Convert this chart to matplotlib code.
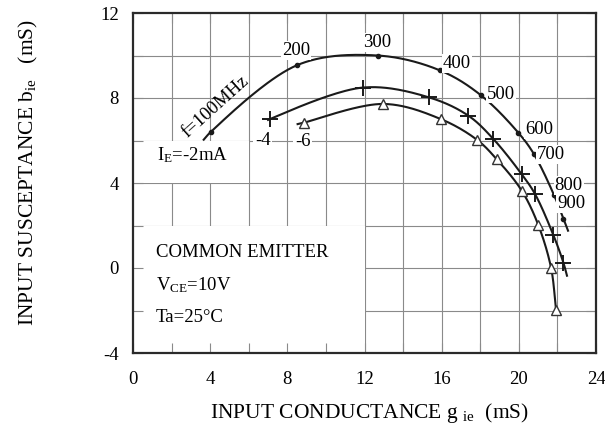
import numpy as np
import matplotlib
matplotlib.use("Agg")
import matplotlib.pyplot as plt
from matplotlib.patches import Rectangle
from matplotlib.ticker import MultipleLocator

plt.rcParams['font.family'] = ['Liberation Serif', 'DejaVu Serif']
plt.rcParams['mathtext.fontset'] = 'custom'
plt.rcParams['mathtext.rm'] = 'Liberation Serif'
plt.rcParams['mathtext.it'] = 'Liberation Serif:italic'

# ---- data ----
freq_labels = ['f=100MHz', '200', '300', '400', '500', '600', '700', '800', '900']

ie2_g = [4.04, 8.52, 12.68, 15.91, 18.02, 19.97, 20.79, 21.83, 22.31]
ie2_b = [6.41, 9.55, 10.0, 9.3, 8.14, 6.37, 5.35, 3.42, 2.32]
ie2_end_g = [3.63, 22.57]
ie2_end_b = [6.0, 1.71]

ie4_g = [7.1, 11.9, 15.34, 17.38, 18.68, 20.15, 20.84, 21.79, 22.31]
ie4_b = [7.01, 8.49, 8.03, 7.17, 6.07, 4.41, 3.48, 1.55, 0.25]
ie4_end_g = [6.95, 22.51]
ie4_end_b = [6.95, -0.41]

ie6_g = [8.86, 12.98, 15.95, 17.85, 18.85, 20.15, 21.01, 21.67, 21.93]
ie6_b = [6.84, 7.72, 7.01, 6.02, 5.12, 3.64, 2.02, 0.01, -1.98]
ie6_end_g = [8.48, 21.93]
ie6_end_b = [6.76, -1.98]

x_ticks = [0, 4, 8, 12, 16, 20, 24]
y_ticks = [-4, 0, 4, 8, 12]


def catmull_rom(x, y, n=40, alpha=0.5):
    P = np.column_stack([x, y]).astype(float)
    P = np.vstack([2 * P[0] - P[1], P, 2 * P[-1] - P[-2]])
    out = []
    for i in range(len(P) - 3):
        p0, p1, p2, p3 = P[i:i + 4]
        t0 = 0.0
        t1 = t0 + max(np.linalg.norm(p1 - p0), 1e-6) ** alpha
        t2 = t1 + max(np.linalg.norm(p2 - p1), 1e-6) ** alpha
        t3 = t2 + max(np.linalg.norm(p3 - p2), 1e-6) ** alpha
        t = np.linspace(t1, t2, n)[:, None]
        A1 = (t1 - t) / (t1 - t0) * p0 + (t - t0) / (t1 - t0) * p1
        A2 = (t2 - t) / (t2 - t1) * p1 + (t - t1) / (t2 - t1) * p2
        A3 = (t3 - t) / (t3 - t2) * p2 + (t - t2) / (t3 - t2) * p3
        B1 = (t2 - t) / (t2 - t0) * A1 + (t - t0) / (t2 - t0) * A2
        B2 = (t3 - t) / (t3 - t1) * A2 + (t - t1) / (t3 - t1) * A3
        C = (t2 - t) / (t2 - t1) * B1 + (t - t1) / (t2 - t1) * B2
        out.append(C if i == 0 else C[1:])
    return np.vstack(out)


def full(g, b, eg, eb):
    gg = list(g)
    bb = list(b)
    if abs(eg[0] - g[0]) > 1e-9 or abs(eb[0] - b[0]) > 1e-9:
        gg = [eg[0]] + gg
        bb = [eb[0]] + bb
    if abs(eg[1] - g[-1]) > 1e-9 or abs(eb[1] - b[-1]) > 1e-9:
        gg = gg + [eg[1]]
        bb = bb + [eb[1]]
    return gg, bb


fig = plt.figure(figsize=(6.05, 4.41), dpi=100)
ax = fig.add_axes([133 / 605, 1 - 353 / 441, (596 - 133) / 605, (353 - 13) / 441])
ax.set_xlim(0, 24)
ax.set_ylim(-4, 12)

grid_c = '#8a8a8a'
# grid lines
ax.vlines(np.arange(2, 24, 2), -4, 12, colors=grid_c, linewidth=0.8, zorder=0.5)
ax.hlines(np.arange(-2, 12, 2), 0, 24, colors=grid_c, linewidth=0.8, zorder=0.5)
# white blanks behind annotation blocks
ax.add_patch(Rectangle((0, -4), 12, 6, facecolor='white', edgecolor='none', zorder=1))
ax.add_patch(Rectangle((0, 4), 6, 2, facecolor='white', edgecolor='none', zorder=1))

lc = '#1a1a1a'
for g, b, eg, eb in [(ie2_g, ie2_b, ie2_end_g, ie2_end_b),
                     (ie4_g, ie4_b, ie4_end_g, ie4_end_b),
                     (ie6_g, ie6_b, ie6_end_g, ie6_end_b)]:
    gg, bb = full(g, b, eg, eb)
    C = catmull_rom(gg, bb)
    ax.plot(C[:, 0], C[:, 1], color=lc, linewidth=1.5, zorder=3, solid_capstyle='butt')

ax.plot(ie2_g, ie2_b, linestyle='none', marker='o', markersize=3, color=lc, zorder=4)
ax.plot(ie4_g, ie4_b, linestyle='none', marker='+', markersize=11, markeredgewidth=1.4,
        color=lc, zorder=4)
ax.plot(ie6_g, ie6_b, linestyle='none', marker='^', markersize=7.5, markeredgewidth=1.0,
        markerfacecolor='white', markeredgecolor='#333333', zorder=4)

fs = 13.5
fl = 15.5
# frequency labels (offsets in pixels -> points)
offs = [None, (-1.6, 15), (0, 13), (17, 7), (20, 1), (21, 3), (17, 0), (14.5, 10), (8, 14.7)]
for lab, g, b, o in zip(freq_labels, ie2_g, ie2_b, offs):
    if o is None:
        continue
    ax.annotate(lab, (g, b), xytext=(o[0] * 0.72, o[1] * 0.72), textcoords='offset points',
                ha='center', va='center', fontsize=fs, zorder=5,
                bbox=dict(boxstyle='square,pad=0.05', facecolor='white', edgecolor='none'))

ax.text(4.3, 7.59, freq_labels[0], rotation=42, ha='center', va='center', fontsize=fs,
        zorder=5, rotation_mode='anchor')
ax.text(1.24, 5.3, r'I$_{\mathrm{E}}$=-2mA', ha='left', va='center', fontsize=fs, zorder=5)
ax.text(6.72, 5.98, '-4', ha='center', va='center', fontsize=fs, zorder=5,
        bbox=dict(boxstyle='square,pad=0.1', facecolor='white', edgecolor='none'))
ax.text(8.8, 5.94, '-6', ha='center', va='center', fontsize=fs, zorder=5,
        bbox=dict(boxstyle='square,pad=0.1', facecolor='white', edgecolor='none'))

ax.text(1.19, 0.72, 'COMMON EMITTER', ha='left', va='center', fontsize=fs, zorder=5)
ax.text(1.19, -0.8, r'V$_{\mathrm{CE}}$=10V', ha='left', va='center', fontsize=fs, zorder=5)
ax.text(1.19, -2.34, 'Ta=25°C', ha='left', va='center', fontsize=fs, zorder=5)

# axes styling
ax.set_xticks(x_ticks)
ax.set_yticks(y_ticks)
ax.set_xticklabels([str(v) for v in x_ticks])
ax.set_yticklabels([str(v) for v in y_ticks])
ax.xaxis.set_minor_locator(MultipleLocator(2))
ax.yaxis.set_minor_locator(MultipleLocator(2))
ax.tick_params(which='both', direction='in', length=7, width=0.8, color=grid_c,
               top=True, right=True)
ax.tick_params(axis='x', which='major', pad=13, labelsize=fs)
ax.tick_params(axis='y', which='major', pad=10, labelsize=fs)
for s in ax.spines.values():
    s.set_linewidth(1.6)
    s.set_color('#2a2a2a')
    s.set_zorder(6)

fig.text(28 / 605, 1 - 172 / 441, r'INPUT SUSCEPTANCE b$_{\mathrm{ie}}$   (mS)',
         rotation=90, ha='center', va='center', fontsize=fl)
fig.text(370 / 605, 1 - 413 / 441, r'INPUT CONDUCTANCE g $_{\mathrm{ie}}$  (mS)',
         ha='center', va='center', fontsize=fl)

fig.savefig('out.png', dpi=100)
